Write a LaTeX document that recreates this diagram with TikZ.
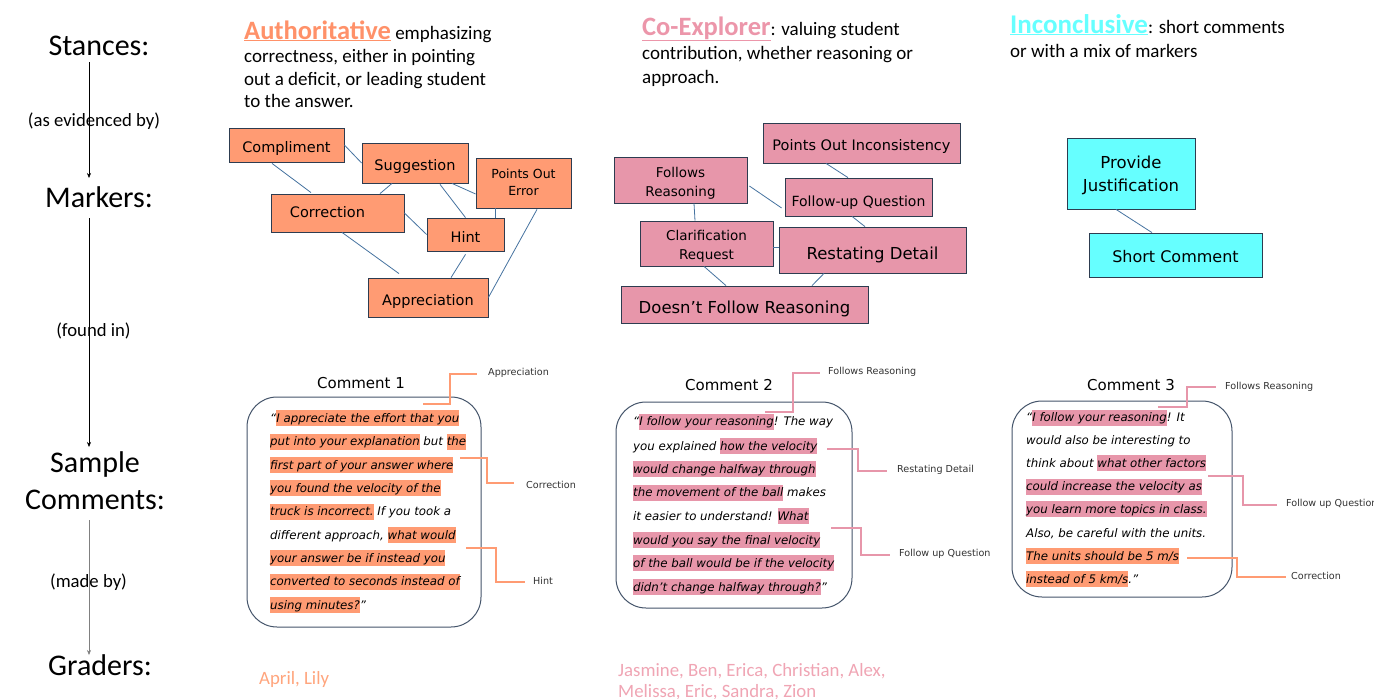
\documentclass[tikz,border=0pt]{standalone}
\usepackage{fontspec}
\setmainfont{Carlito}
\newfontfamily\vfont{DejaVu Sans}
\usetikzlibrary{arrows.meta,calc}
\definecolor{org}{RGB}{255,155,115}
\definecolor{orgtxt}{RGB}{255,145,105}
\definecolor{orgname}{RGB}{255,165,125}
\definecolor{pnk}{RGB}{231,150,170}
\definecolor{pnktxt}{RGB}{236,150,170}
\definecolor{pnkname}{RGB}{240,165,180}
\definecolor{cyn}{RGB}{102,255,255}
\definecolor{bdr}{RGB}{45,60,80}
\definecolor{lnk}{RGB}{70,115,160}
\definecolor{cbox}{RGB}{68,84,106}
\definecolor{lbl}{RGB}{50,50,50}
\newcommand\lnstrut{\rule[-4pt]{0pt}{16pt}}
\newcommand\hlo[1]{{\setlength{\fboxsep}{0pt}\colorbox{org}{\lnstrut#1}}}
\newcommand\hlp[1]{{\setlength{\fboxsep}{0pt}\colorbox{pnk}{\lnstrut#1}}}
\newcommand\dn[2][3pt]{\raisebox{-#1}[\height][\depth]{#2}}
\newcommand\two[2]{\begin{tabular}{@{}c@{}}#1\\#2\end{tabular}}
\tikzset{
  lefttxt/.style={font=\fontsize{30}{37}\selectfont, align=center, inner sep=0pt},
  relat/.style={font=\fontsize{18.7}{22}\selectfont, inner sep=0pt},
  arr/.style={-{Stealth[length=5pt,width=4pt]}, line width=0.6pt},
  desc/.style={anchor=base west, inner sep=0pt, font=\fontsize{19}{22}\selectfont},
  mk/.style={draw=bdr, line width=0.8pt, inner sep=0pt, align=center},
  lk/.style={draw=lnk, line width=0.8pt},
  cbx/.style={draw=cbox, line width=1pt, rounded corners=30pt},
  ctitle/.style={inner sep=0pt, font=\vfont\fontsize{15}{18}\selectfont},
  cl/.style={anchor=west, inner sep=0pt, font=\vfont\itshape\fontsize{11.8}{14}\selectfont},
  lb/.style={anchor=west, inner sep=0pt, text=lbl, font=\vfont\fontsize{9.6}{11}\selectfont},
  calo/.style={draw=org, line width=1.3pt},
  calp/.style={draw=pnk, line width=1.3pt},
  names/.style={anchor=base west, inner sep=0pt, font=\fontsize{18.8}{22}\selectfont}
}
\begin{document}
\begin{tikzpicture}[x=1pt,y=-1pt]
\useasboundingbox (0,0) rectangle (1374,699);
\fill[white] (0,0) rectangle (1374,699);

% ---------- left column ----------
\node[lefttxt] (st) at (99,46) {Stances:};
\node[lefttxt] (mkr) at (99,197) {Markers:};
\node[lefttxt] (smp) at (95,481) {Sample\\Comments:};
\node[lefttxt] (grd) at (100,665) {Graders:};
\draw[arr] ($(st.center)+(-10,16)$) -- ($(mkr.center)+(-10,-19)$);
\draw[arr] ($(mkr.center)+(-10,21)$) -- ($(smp.center)+(-6,-34)$);
\draw[arr, draw=gray] ($(smp.center)+(-6,39)$) -- ($(grd.center)+(-11,-10)$);
\node[relat] (ev) at (94,121) {(as evidenced by)};
\node[relat] (fi) at (93.5,331) {(found in)};
\node[relat] (mb) at (88.5,582) {(made by)};

% ---------- stance descriptions ----------
\node[desc] (au1) at (244,39) {{\fontsize{26.5}{28}\selectfont\bfseries\color{orgtxt}\underline{Authoritative}} emphasizing};
\node[desc] (au2) at (244,62) {correctness, either in pointing};
\node[desc] (au3) at (244,85) {out a deficit, or leading student};
\node[desc] (au4) at (244,107) {to the answer.};
\node[desc] (ce1) at (642,35) {{\fontsize{26.5}{28}\selectfont\bfseries\color{pnktxt}\underline{Co-Explorer}}: valuing student};
\node[desc] (ce2) at (642,59) {contribution, whether reasoning or};
\node[desc] (ce3) at (642,83) {approach.};
\node[desc] (in1) at (1010,33) {{\fontsize{27}{28}\selectfont\bfseries\color{cyn}\underline{Inconclusive}}: short comments};
\node[desc] (in2) at (1010,57) {or with a mix of markers};

% ---------- authoritative markers ----------
\begin{scope}[every node/.style={mk, fill=org}]
\node[minimum width=115, minimum height=34, font=\vfont\fontsize{14.5}{17}\selectfont] (cmp) at (286.5,145) {\dn{Compliment}};
\node[minimum width=106, minimum height=40, font=\vfont\fontsize{14.5}{17}\selectfont] (sug) at (415,163) {\dn{Suggestion}};
\node[minimum width=95, minimum height=50, font=\vfont\fontsize{12.5}{17}\selectfont] (poe) at (523.5,183) {\dn[1pt]{\two{Points Out}{Error}}};
\node[minimum width=133, minimum height=38, font=\vfont\fontsize{14.5}{17}\selectfont] (cor) at (337.5,213) {\dn[-1pt]{Correction}\hspace*{20pt}};
\node[minimum width=77, minimum height=33, font=\vfont\fontsize{14.5}{17}\selectfont] (hnt) at (465.5,234.5) {\dn[2pt]{Hint}};
\node[minimum width=120, minimum height=39, font=\vfont\fontsize{14.5}{17}\selectfont] (app) at (428,297.5) {\dn[4pt]{Appreciation}};
\end{scope}
\draw[lk] (cmp.east) -- (sug.west);
\draw[lk] ($(cmp.south)+(-14.5,1)$) -- ($(cor.north)+(-26.5,-1)$);
\draw[lk] ($(sug.south)+(-23,0)$) -- ($(cor.north)+(42.5,0)$);
\draw[lk] ($(sug.south)+(37,0)$) -- ($(poe.west)+(0,11)$);
\draw[lk] ($(sug.south)+(25,1)$) -- (hnt.north);
\draw[lk] (cor.east) -- (hnt.west);
\draw[lk] ($(poe.south)+(-28.5,0)$) -- ($(hnt.north)+(29.5,0)$);
\draw[lk] ($(cor.south)+(4.5,0)$) -- ($(app.north)+(-29,-4)$);
\draw[lk] ($(hnt.south)+(0,3)$) -- ($(app.north)+(23,0)$);
\draw[lk] ($(poe.south)+(13.5,1)$) -- (app.east);

% ---------- co-explorer markers ----------
\begin{scope}[every node/.style={mk, fill=pnk}]
\node[minimum width=197, minimum height=40, font=\vfont\fontsize{14.5}{17}\selectfont] (poi) at (861.5,143) {\dn{Points Out Inconsistency}};
\node[minimum width=133, minimum height=46, font=\vfont\fontsize{13.5}{19}\selectfont] (frs) at (680.5,180) {\dn{\two{Follows}{Reasoning}}};
\node[minimum width=147, minimum height=38, font=\vfont\fontsize{14}{17}\selectfont] (fuq) at (858.5,197) {\dn[6pt]{Follow-up Question}};
\node[minimum width=133, minimum height=45, font=\vfont\fontsize{13.5}{19}\selectfont] (clr) at (706.5,243.5) {\dn{\two{Clarification}{Request}}};
\node[minimum width=187, minimum height=46, font=\vfont\fontsize{16.5}{19}\selectfont] (rsd) at (872.5,250) {\dn[5pt]{Restating Detail}};
\node[minimum width=247, minimum height=37, font=\vfont\fontsize{16.5}{19}\selectfont] (dfr) at (744.5,304.5) {\dn[4pt]{Doesn’t Follow Reasoning}};
\end{scope}
\draw[lk] ($(poi.south)+(-35.5,0)$) -- ($(fuq.north)+(-10.5,0)$);
\draw[lk] ($(frs.east)+(2,6)$) -- ($(fuq.west)+(-3,11)$);
\draw[lk] ($(frs.south)+(13.5,0)$) -- ($(clr.north)+(-11.5,0)$);
\draw[lk] ($(clr.east)+(0,3.5)$) -- ($(rsd.west)+(0,-3)$);
\draw[lk] ($(fuq.south)+(-6.5,0)$) -- ($(rsd.north)+(-7.5,0)$);
\draw[lk] ($(clr.south)+(-2.5,0)$) -- ($(dfr.north)+(-18.5,0)$);
\draw[lk] ($(rsd.south)+(-48.5,0)$) -- ($(dfr.north)+(67.5,0)$);

% ---------- inconclusive markers ----------
\begin{scope}[every node/.style={mk, fill=cyn}]
\node[minimum width=128, minimum height=71, font=\vfont\fontsize{16.5}{23}\selectfont] (pj) at (1131,173.5) {\dn[2pt]{\two{Provide}{Justification}}};
\node[minimum width=173, minimum height=44, font=\vfont\fontsize{16}{19}\selectfont] (shc) at (1175.5,255) {\dn[2pt]{Short Comment}};
\end{scope}
\draw[lk] ($(pj.south)+(-15,0)$) -- ($(shc.north)+(-23.5,0)$);

% ---------- comment boxes ----------
\node[cbx, minimum width=234, minimum height=230] (cm1) at (364,512) {};
\node[cbx, minimum width=236, minimum height=206] (cm2) at (734,505) {};
\node[cbx, minimum width=220, minimum height=196] (cm3) at (1122,499) {};
\node[ctitle] (t1) at (361,383) {Comment 1};
\node[ctitle] (t2) at (729,385) {Comment 2};
\node[ctitle] (t3) at (1131,385) {Comment 3};

% comment 1
\node[cl] (a1) at (270,418.3) {\lnstrut“\hlo{I appreciate the effort that you}};
\node[cl] (a2) at (270,441.7) {\lnstrut\hlo{put into your explanation} but \hlo{the}};
\node[cl] (a3) at (270,465) {\lnstrut\hlo{first part of your answer where}};
\node[cl] (a4) at (270,488.3) {\lnstrut\hlo{you found the velocity of the}};
\node[cl] (a5) at (270,511.7) {\lnstrut\hlo{truck is incorrect.} If you took a};
\node[cl] (a6) at (270,535) {\lnstrut different approach, \hlo{what would}};
\node[cl] (a7) at (270,558.3) {\lnstrut\hlo{your answer be if instead you}};
\node[cl] (a8) at (270,581.7) {\lnstrut\hlo{converted to seconds instead of}};
\node[cl] (a9) at (270,605) {\lnstrut\hlo{using minutes?}”};

% comment 2
\node[cl] (b1) at (633,421.7) {\lnstrut“\hlp{I follow your reasoning}! The way};
\node[cl] (b2) at (633,446) {\lnstrut you explained \hlp{how the velocity}};
\node[cl] (b3) at (633,469) {\lnstrut\hlp{would change halfway through}};
\node[cl] (b4) at (633,492.7) {\lnstrut\hlp{the movement of the ball} makes};
\node[cl] (b5) at (633,516) {\lnstrut it easier to understand! \hlp{What}};
\node[cl] (b6) at (633,540) {\lnstrut\hlp{would you say the final velocity}};
\node[cl] (b7) at (633,563.3) {\lnstrut\hlp{of the ball would be if the velocity}};
\node[cl] (b8) at (633,587.3) {\lnstrut\hlp{didn’t change halfway through?}”};

% comment 3
\node[cl] (d1) at (1026,417.7) {\lnstrut“\hlp{I follow your reasoning}! It};
\node[cl] (d2) at (1026,440.7) {\lnstrut would also be interesting to};
\node[cl] (d3) at (1026,463.3) {\lnstrut think about \hlp{what other factors}};
\node[cl] (d4) at (1026,486.7) {\lnstrut\hlp{could increase the velocity as}};
\node[cl] (d5) at (1026,509.3) {\lnstrut\hlp{you learn more topics in class.}};
\node[cl] (d6) at (1026,533.3) {\lnstrut Also, be careful with the units.};
\node[cl] (d7) at (1026,556) {\lnstrut\hlo{The units should be 5 m/s}};
\node[cl] (d8) at (1026,579.3) {\lnstrut\hlo{instead of 5 km/s}.”};

% ---------- callouts ----------
\node[lb] (lapp) at (488,373) {Appreciation};
\node[lb] (lcor1) at (526,485) {Correction};
\node[lb] (lhnt) at (533,581) {Hint};
\node[lb] (lfr2) at (828,372) {Follows Reasoning};
\node[lb] (lrd2) at (897,470) {Restating Detail};
\node[lb] (lfq2) at (899,554) {Follow up Question};
\node[lb] (lfr3) at (1225,387) {Follows Reasoning};
\node[lb] (lfq3) at (1286,504) {Follow up Question};
\node[lb] (lcor3) at (1291,576) {Correction};

\coordinate (pa1) at (423,404);
\coordinate (pa2) at (460,458);
\coordinate (pa3) at (466,548);
\coordinate (pb1) at (765,412);
\coordinate (pb2) at (827,449);
\coordinate (pb3) at (831,528);
\coordinate (pd1) at (1158,407);
\coordinate (pd2) at (1208,476);
\coordinate (pd3) at (1187,558);

\draw[calo] (pa1) -- ++(27,0) |- ($(lapp.west)+(-11,1)$);
\draw[calo] (pa2) -- ++(27,0) |- ($(lcor1.west)+(-12,-2)$);
\draw[calo] (pa3) -- ++(30,0) |- ($(lhnt.west)+(-8,1)$);
\draw[calp] (pb1) -- ++(28,0) |- ($(lfr2.west)+(-8,1)$);
\draw[calp] (pb2) -- ++(31,0) |- ($(lrd2.west)+(-10,1)$);
\draw[calp] (pb3) -- ++(30,0) |- ($(lfq2.west)+(-9,1)$);
\draw[calp] (pd1) -- ++(29,0) |- ($(lfr3.west)+(-9,0)$);
\draw[calp] (pd2) -- ++(35,0) |- ($(lfq3.west)+(-9,1)$);
\draw[calo] (pd3) -- ++(50,0) |- ($(lcor3.west)+(-5,1)$);

% ---------- graders ----------
\node[names, text=orgname] (g1) at (259,684) {April, Lily};
\node[names, text=pnkname] (g2) at (618,676) {Jasmine, Ben, Erica, Christian, Alex,};
\node[names, text=pnkname] (g3) at (618,697) {Melissa, Eric, Sandra, Zion};
\end{tikzpicture}
\end{document}
